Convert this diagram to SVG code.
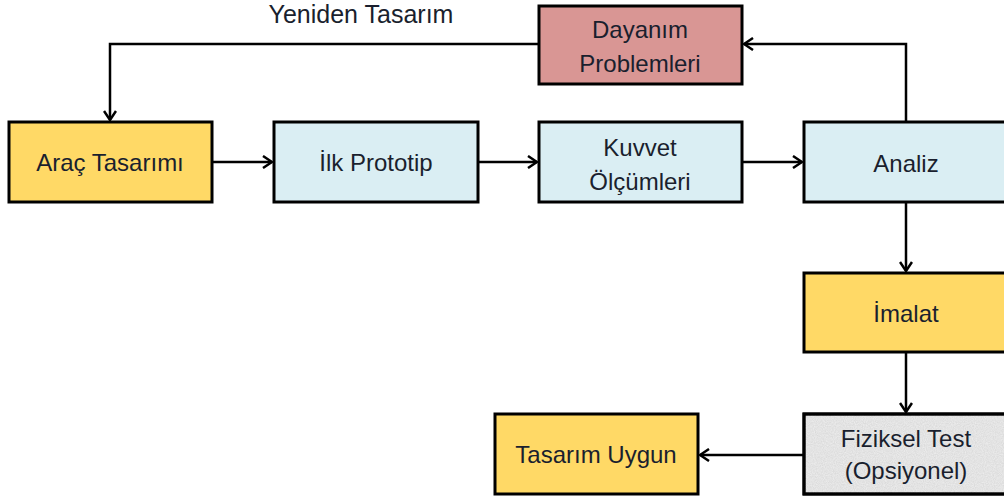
<svg xmlns="http://www.w3.org/2000/svg" width="1004" height="499" viewBox="0 0 1004 499">
<defs>
<marker id="arr" viewBox="0 0 12 14" refX="11" refY="7" markerWidth="12" markerHeight="14" markerUnits="userSpaceOnUse" orient="auto">
<path d="M2,1 L11,7 L2,13" fill="none" stroke="#000" stroke-width="2.5"/>
</marker>
<filter id="grain" x="0" y="0" width="100%" height="100%">
<feTurbulence type="fractalNoise" baseFrequency="0.9" numOctaves="2" seed="3" result="n"/>
<feColorMatrix in="n" type="matrix" values="0 0 0 0 0.5  0 0 0 0 0.5  0 0 0 0 0.5  0 0 0 -0.9 0.75" result="g"/>
<feComposite in="g" in2="SourceGraphic" operator="in"/>
</filter>
</defs>
<style>
rect{stroke:#000;stroke-width:3}
.y{fill:#FFD966}
.b{fill:#DAEEF3}
.r{fill:#D99694}
.g{fill:#ECECEC}
text{font-family:"Liberation Sans",Arial,sans-serif;font-size:24px;fill:#1a1f2e;text-anchor:middle}
.c{fill:none;stroke:#000;stroke-width:2.5;marker-end:url(#arr)}
</style>
<rect width="1004" height="499" fill="#fff" style="stroke:none"/>
<text x="361" y="23" style="font-size:25px">Yeniden Tasarım</text>
<g id="n-dayanim"><rect class="r" x="539" y="6" width="203" height="78"/><text x="640" y="38">Dayanım</text><text x="640" y="72">Problemleri</text></g>
<g id="n-arac"><rect class="y" x="9" y="122" width="203" height="80"/><text x="110" y="171">Araç Tasarımı</text></g>
<g id="n-ilk"><rect class="b" x="274" y="122" width="204" height="80"/><text x="376" y="171">İlk Prototip</text></g>
<g id="n-kuvvet"><rect class="b" x="539" y="122" width="203" height="80"/><text x="640" y="156">Kuvvet</text><text x="640" y="190">Ölçümleri</text></g>
<g id="n-analiz"><rect class="b" x="804" y="122" width="210" height="80"/><text x="906" y="172">Analiz</text></g>
<g id="n-imalat"><rect class="y" x="804" y="273" width="210" height="79"/><text x="906" y="322">İmalat</text></g>
<g id="n-fiziksel"><rect class="g" x="804" y="414" width="210" height="80"/><rect x="804" y="414" width="210" height="80" filter="url(#grain)" style="fill:#ddd;stroke:none" opacity="0.6"/><rect x="804" y="414" width="210" height="80" style="fill:none"/><text x="906" y="447">Fiziksel Test</text><text x="906" y="479">(Opsiyonel)</text></g>
<g id="n-uygun"><rect class="y" x="495" y="414" width="203" height="80"/><text x="596" y="463">Tasarım Uygun</text></g>
<g id="connectors">
<path class="c" d="M539,44 H110 V120"/>
<path class="c" d="M906,122 V44 H744"/>
<path class="c" d="M212,162 H272"/>
<path class="c" d="M478,162 H537"/>
<path class="c" d="M742,162 H802"/>
<path class="c" d="M906,202 V271"/>
<path class="c" d="M906,352 V412"/>
<path class="c" d="M804,455 H700"/>
</g>
</svg>
